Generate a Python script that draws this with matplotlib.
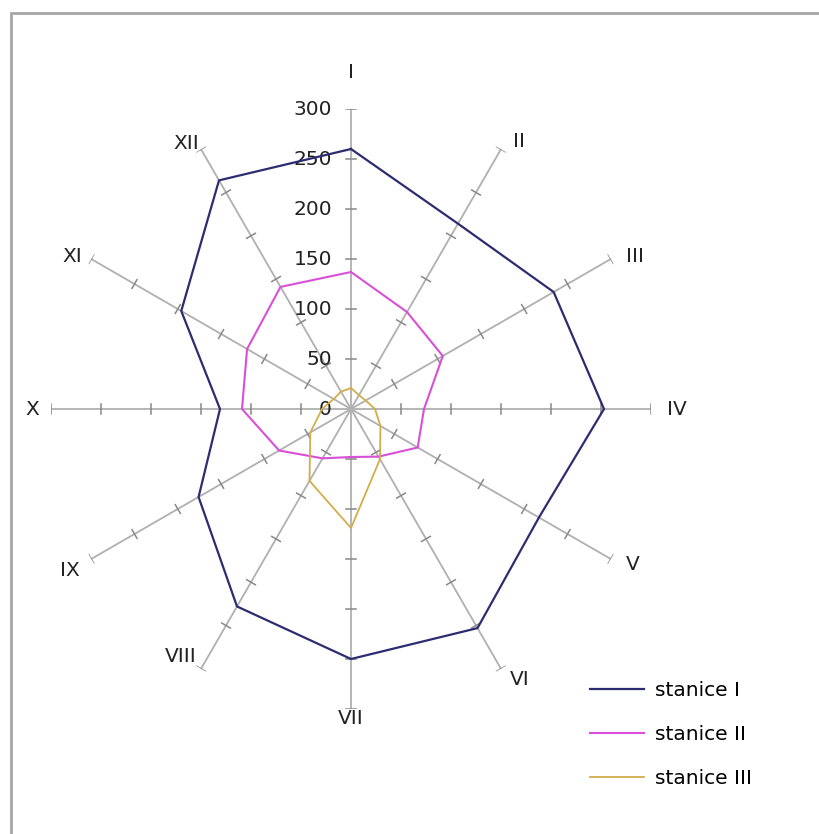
# radar chart - stanice I, II, III by month

import numpy as np
import matplotlib
matplotlib.use("Agg")
import matplotlib.pyplot as plt
from matplotlib.patches import Rectangle

plt.rcParams["font.family"] = ["DejaVu Sans"]

# DATA

mesice = ["I", "II", "III", "IV", "V", "VI",
          "VII", "VIII", "IX", "X", "XI", "XII"]

stanice_1 = [260, 214, 234, 253, 217, 253, 250, 228, 176, 131, 196, 264]
stanice_2 = [137, 112, 106, 73, 77, 55, 48, 57, 83, 109, 120, 141]
stanice_3 = [21, 16, 17, 24, 34, 58, 119, 83, 47, 29, 20, 20]

nazvy = ["stanice I", "stanice II", "stanice III"]
barvy = ["#2c2c70", "#d84fd8", "#d2ad4a"]

stupnice = [0, 50, 100, 150, 200, 250, 300]

# GRAF

W, H = 820, 834
cx, cy, R = 351, 409, 300
FS = 14.5
h = 5  # polovina delky carky (v jednotkach osy = px)

fig = plt.figure(figsize=(W / 100, H / 100), dpi=100)

# ramecek
fig.patches.append(Rectangle((11 / W, -0.1), 1.2, (H - 13) / H + 0.1,
                             transform=fig.transFigure, fill=False,
                             edgecolor="#a6a6a6", linewidth=2))

ax = fig.add_axes([(cx - R) / W, (H - cy - R) / H, 2 * R / W, 2 * R / H],
                  projection="polar")
ax.set_theta_zero_location("N")
ax.set_theta_direction(-1)
ax.set_ylim(0, stupnice[-1])
ax.grid(False)
ax.set_xticks([])
ax.set_yticks([])
ax.spines["polar"].set_visible(False)
ax.patch.set_alpha(0)

uhly = np.linspace(0, 2 * np.pi, len(mesice), endpoint=False)

# osy s carkami
for th in uhly:
    ax.plot([th, th], [0, stupnice[-1]], color="#b0b0b0", lw=1.3, zorder=1)
    for v in stupnice[1:]:
        d = np.arctan(h / v)
        ax.plot([th - d, th + d], [np.hypot(v, h)] * 2,
                color="#888888", lw=1.1, zorder=1)

# popisky stupnice na ose I
for v in stupnice:
    ax.annotate(str(v), (0, v), xytext=(-19, 0), textcoords="offset pixels",
                ha="right", va="center", fontsize=FS, color="#222222",
                annotation_clip=False)

# popisky mesicu (posun od konce osy v pixelech)
posun = [(0, 37), (18, 8), (24, 3), (26, 0), (22, -6), (19, -11),
         (0, -9), (-20, 12), (-21, -11), (-19, 0), (-19, 3), (-15, 6)]
for th, m, (dx, dy) in zip(uhly, mesice, posun):
    ax.annotate(m, (th, stupnice[-1]), xytext=(dx, dy),
                textcoords="offset pixels", ha="center", va="center",
                fontsize=FS, color="#222222", annotation_clip=False)

# rady
for hodnoty, nazev, barva, lw in zip([stanice_1, stanice_2, stanice_3],
                                     nazvy, barvy, [1.6, 1.5, 1.3]):
    t = np.append(uhly, uhly[0])
    r = np.append(hodnoty, hodnoty[0])
    ax.plot(t, r, color=barva, lw=lw, label=nazev, zorder=3)

fig.legend(loc="upper left", bbox_to_anchor=(572 / W, 1 - 663 / H),
           frameon=False, fontsize=FS, handlelength=2.7,
           handletextpad=0.5, labelspacing=1.25)

fig.savefig("out.png", dpi=100, facecolor="white")
